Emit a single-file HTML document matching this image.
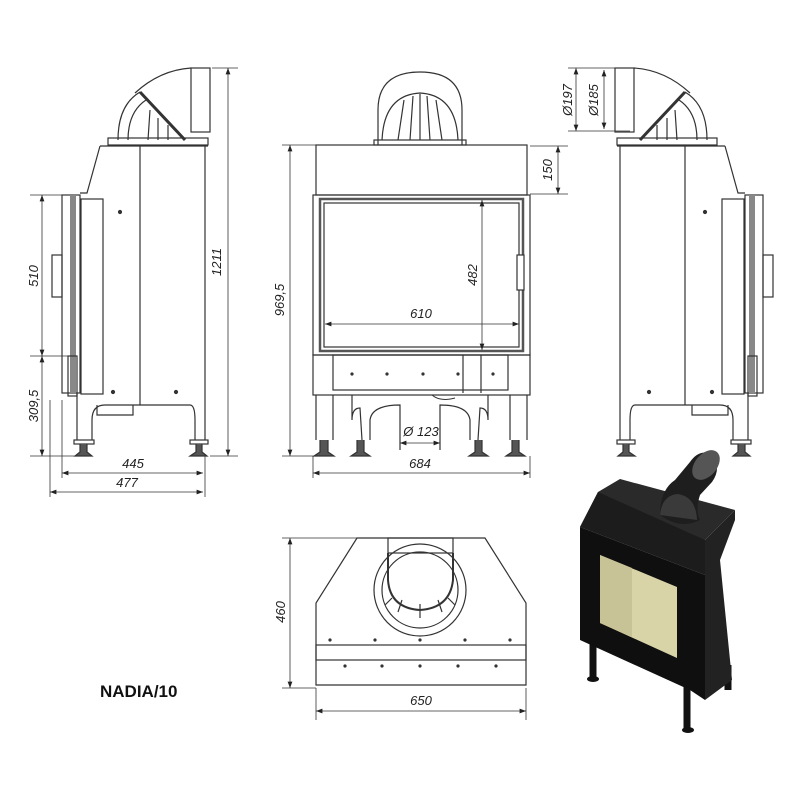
<!DOCTYPE html>
<html><head><meta charset="utf-8"><style>
html,body{margin:0;padding:0;background:#fff;}
svg{display:block}
text{font-family:"Liberation Sans",sans-serif;font-style:italic;font-size:13px;fill:#222}
</style></head><body>
<svg width="800" height="800" viewBox="0 0 800 800" xmlns="http://www.w3.org/2000/svg">
<defs>
<marker id="a" markerWidth="8" markerHeight="6" refX="8" refY="3" orient="auto-start-reverse"><path d="M0,0 L8,3 L0,6z" fill="#222"/></marker>
<g id="side" fill="none" stroke="#333" stroke-width="1.2">
  <rect x="191" y="68" width="19" height="64" fill="#fff"/>
  <path d="M135,93 Q160,70 191,68"/>
  <path d="M140,92 L185,140" stroke-width="3"/>
  <path d="M140,92 Q118,105 118,140 M146,100 Q128,112 128,140 M150,110 L148,140 M158,118 L158,140 M168,125 L168,140"/>
  <rect x="108" y="138" width="100" height="7"/>
  <path d="M100,146 L208,146 L205,146 L205,400 M100,146 L87,193 L80,193"/>
  <line x1="140" y1="146" x2="140" y2="405"/>
  <rect x="62" y="195" width="18" height="198"/>
  <rect x="70" y="195" width="6" height="198" fill="#888" stroke="none"/>
  <rect x="81" y="199" width="22" height="195"/>
  <rect x="52" y="255" width="10" height="42"/>
  <rect x="68" y="356" width="9" height="40"/>
  <path d="M77,393 L77,440 M92,440 L92,420 Q92,405 105,405 L190,405 Q195,405 195,420 L195,440 M205,400 L205,440"/>
  <path d="M97,405 L97,415 L133,415 L133,405"/>
  <rect x="74" y="440" width="20" height="4"/><rect x="190" y="440" width="18" height="4"/>
  <path d="M80,444 L80,452 L75,456 L92,456 L87,452 L87,444 M196,444 L196,452 L190,456 L207,456 L202,452 L202,444" fill="#555"/>
  <circle cx="120" cy="212" r="1.5" fill="#333"/><circle cx="113" cy="392" r="1.5" fill="#333"/><circle cx="176" cy="392" r="1.5" fill="#333"/>
</g>
</defs>

<use href="#side"/>
<g stroke="#333" stroke-width="0.8" fill="none">
  <line x1="212" y1="68" x2="238" y2="68"/><line x1="210" y1="456" x2="238" y2="456"/>
  <line x1="228" y1="68" x2="228" y2="456" marker-start="url(#a)" marker-end="url(#a)"/>
  <line x1="30" y1="195" x2="62" y2="195"/><line x1="30" y1="356" x2="68" y2="356"/><line x1="30" y1="456" x2="78" y2="456"/>
  <line x1="42" y1="195" x2="42" y2="356" marker-start="url(#a)" marker-end="url(#a)"/>
  <line x1="42" y1="356" x2="42" y2="456" marker-start="url(#a)" marker-end="url(#a)"/>
  <line x1="62" y1="400" x2="62" y2="478"/><line x1="50" y1="400" x2="50" y2="497"/><line x1="205" y1="456" x2="205" y2="497"/>
  <line x1="62" y1="473" x2="203" y2="473" marker-start="url(#a)" marker-end="url(#a)"/>
  <line x1="50" y1="492" x2="203" y2="492" marker-start="url(#a)" marker-end="url(#a)"/>
</g>
<text transform="translate(221,262) rotate(-90)" text-anchor="middle">1211</text>
<text transform="translate(38,276) rotate(-90)" text-anchor="middle">510</text>
<text transform="translate(38,406) rotate(-90)" text-anchor="middle">309,5</text>
<text x="133" y="468" text-anchor="middle">445</text>
<text x="127" y="487" text-anchor="middle">477</text>

<g transform="translate(825,0) scale(-1,1)"><use href="#side"/></g>
<g stroke="#333" stroke-width="0.8" fill="none">
  <line x1="568" y1="68" x2="630" y2="68"/><line x1="568" y1="131" x2="630" y2="131"/>
  <line x1="576" y1="68" x2="576" y2="131" marker-start="url(#a)" marker-end="url(#a)"/>
  <line x1="604" y1="70" x2="604" y2="129" marker-start="url(#a)" marker-end="url(#a)"/>
  <line x1="530" y1="146" x2="568" y2="146"/><line x1="530" y1="194" x2="568" y2="194"/>
  <line x1="558" y1="146" x2="558" y2="194" marker-start="url(#a)" marker-end="url(#a)"/>
</g>
<text transform="translate(572,100) rotate(-90)" text-anchor="middle">Ø197</text>
<text transform="translate(598,100) rotate(-90)" text-anchor="middle">Ø185</text>
<text transform="translate(552,170) rotate(-90)" text-anchor="middle">150</text>

<g fill="none" stroke="#333" stroke-width="1.2">
  <path d="M378,145 L378,110 Q378,72 420,72 Q462,72 462,110 L462,145"/>
  <path d="M382,140 Q384,95 420,93 Q456,95 458,140"/>
  <path d="M398,140 L404,100 M410,140 L413,96 M420,140 L420,94 M430,140 L427,96 M442,140 L436,100"/>
  <rect x="374" y="140" width="92" height="5"/>
  <rect x="316" y="145" width="211" height="50"/>
  <rect x="313" y="195" width="217" height="160"/>
  <rect x="320" y="199" width="203" height="152" stroke-width="2.5" stroke="#555"/>
  <rect x="324" y="203" width="195" height="144"/>
  <rect x="517" y="255" width="7" height="35" fill="#fff"/>
  <rect x="313" y="355" width="217" height="40"/>
  <rect x="333" y="355" width="175" height="35"/>
  <line x1="463" y1="355" x2="463" y2="393"/><line x1="481" y1="355" x2="481" y2="393"/>
  <path d="M316,395 L316,440 M333,395 L333,440 M352,395 L352,420 Q352,408 360,408 L362,440 M370,440 L370,420 Q372,405 400,405 L400,450 M440,450 L440,405 Q468,405 470,420 L470,440 M478,440 L480,408 Q488,408 488,420 L488,395 M510,395 L510,440 M527,395 L527,440"/>
  <path d="M320,440 L320,452 L314,456 L334,456 L328,452 L328,440 M357,440 L357,452 L351,456 L370,456 L364,452 L364,440 M475,440 L475,452 L469,456 L488,456 L482,452 L482,440 M512,440 L512,452 L506,456 L525,456 L519,452 L519,440" fill="#555"/>
  <path d="M432,395 Q440,402 455,398" stroke-width="1"/>
</g>
<g fill="#333"><circle cx="352" cy="374" r="1.6"/><circle cx="387" cy="374" r="1.6"/><circle cx="423" cy="374" r="1.6"/><circle cx="458" cy="374" r="1.6"/><circle cx="493" cy="374" r="1.6"/></g>
<g stroke="#333" stroke-width="0.8" fill="none">
  <line x1="282" y1="145" x2="316" y2="145"/><line x1="282" y1="456" x2="320" y2="456"/>
  <line x1="290" y1="145" x2="290" y2="456" marker-start="url(#a)" marker-end="url(#a)"/>
  <line x1="482" y1="200" x2="482" y2="350" marker-start="url(#a)" marker-end="url(#a)"/>
  <line x1="325" y1="324" x2="519" y2="324" marker-start="url(#a)" marker-end="url(#a)"/>
  <line x1="400" y1="443" x2="440" y2="443" marker-start="url(#a)" marker-end="url(#a)"/>
  <line x1="313" y1="456" x2="313" y2="478"/><line x1="530" y1="456" x2="530" y2="478"/>
  <line x1="313" y1="473" x2="530" y2="473" marker-start="url(#a)" marker-end="url(#a)"/>
</g>
<text transform="translate(284,300) rotate(-90)" text-anchor="middle">969,5</text>
<text transform="translate(477,275) rotate(-90)" text-anchor="middle">482</text>
<text x="421" y="318" text-anchor="middle">610</text>
<text x="421" y="436" text-anchor="middle">Ø 123</text>
<text x="420" y="468" text-anchor="middle">684</text>

<g fill="none" stroke="#333" stroke-width="1.2">
  <path d="M357,538 L485,538 L526,603 L526,685 L316,685 L316,603 Z"/>
  <rect x="316" y="645" width="210" height="15"/>
  <rect x="388" y="538" width="65" height="15"/>
  <circle cx="420" cy="590" r="46"/>
  <circle cx="420" cy="590" r="38"/>
  <path d="M388,553 L388,580 Q390,608 420,610 Q450,608 453,580 L453,553" stroke-width="2"/>
  <path d="M398,612 L402,600 M420,618 L420,604 M442,612 L438,600 M385,605 L392,598 M455,605 L448,598"/>
</g>
<g fill="#333"><circle cx="330" cy="640" r="1.6"/><circle cx="375" cy="640" r="1.6"/><circle cx="420" cy="640" r="1.6"/><circle cx="465" cy="640" r="1.6"/><circle cx="510" cy="640" r="1.6"/>
<circle cx="345" cy="666" r="1.6"/><circle cx="382" cy="666" r="1.6"/><circle cx="420" cy="666" r="1.6"/><circle cx="458" cy="666" r="1.6"/><circle cx="496" cy="666" r="1.6"/></g>
<g stroke="#333" stroke-width="0.8" fill="none">
  <line x1="282" y1="538" x2="357" y2="538"/><line x1="282" y1="688" x2="316" y2="688"/>
  <line x1="290" y1="538" x2="290" y2="688" marker-start="url(#a)" marker-end="url(#a)"/>
  <line x1="316" y1="688" x2="316" y2="720"/><line x1="526" y1="688" x2="526" y2="720"/>
  <line x1="316" y1="711" x2="526" y2="711" marker-start="url(#a)" marker-end="url(#a)"/>
</g>
<text transform="translate(285,612) rotate(-90)" text-anchor="middle">460</text>
<text x="421" y="705" text-anchor="middle">650</text>

<text x="100" y="697" style="font-style:normal;font-weight:bold;font-size:17px;fill:#111">NADIA/10</text>

<!-- 3D render -->
<g>
  <!-- legs -->
  <path d="M593,640 L593,677 M687,670 L687,728 M728,665 L728,690" stroke="#111" stroke-width="7"/>
  <ellipse cx="593" cy="679" rx="6" ry="3" fill="#111"/><ellipse cx="688" cy="730" rx="6" ry="3" fill="#111"/>
  <!-- right side -->
  <path d="M705,540 L735,510 L735,520 L720,560 L732,680 L705,700 Z" fill="#222"/>
  <!-- top face -->
  <path d="M598,492 L620,479 L735,510 L705,540 L580,527 Z" fill="#2a2a2a"/>
  <!-- front upper slanted panel -->
  <path d="M580,527 L598,492 L705,540 L705,575 Z" fill="#1c1c1c"/>
  <!-- door -->
  <path d="M580,527 L705,575 L705,700 L690,690 L580,640 Z" fill="#0f0f0f"/>
  <path d="M600,555 L677,587 L677,658 L600,623 Z" fill="#d9d4a8"/>
  <path d="M600,555 L632,568 L632,637 L600,623 Z" fill="#c8c396"/>
  <!-- flue elbow -->
  <path d="M660,515 Q660,490 675,480 L690,462 Q700,448 712,455 Q722,468 712,482 L700,495 Q695,510 700,520 Q680,530 660,515Z" fill="#1e1e1e"/>
  <ellipse cx="706" cy="465" rx="11" ry="17" transform="rotate(40 706 465)" fill="#555"/>
  <path d="M660,515 Q662,495 678,494 Q696,497 697,520 Z" fill="#3a3a3a"/>
</g>
</svg>
</body></html>
